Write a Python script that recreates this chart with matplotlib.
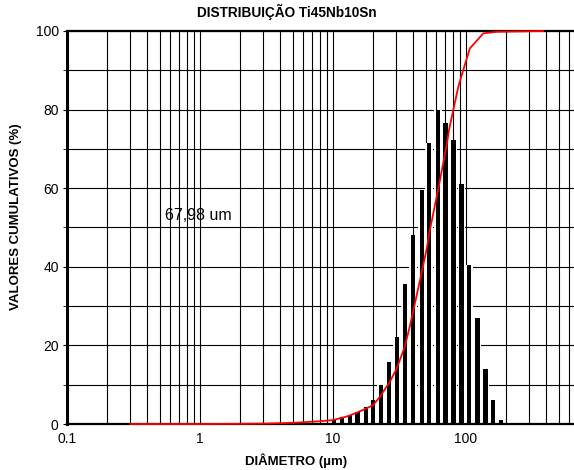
import matplotlib
matplotlib.use("Agg")
import matplotlib.pyplot as plt
import numpy as np

plt.rcParams['font.family'] = ['Liberation Sans', 'DejaVu Sans']

# histogram classes (um) and heights
diam = [7.7, 8.85, 10.2, 11.7, 13.4, 15.3, 17.6, 20.1, 23.0, 26.3, 30.3, 34.9,
        40.0, 46.4, 53.0, 61.2, 70.0, 80.5, 92.5, 106, 122, 140, 160, 184]
hist = [0.15, 0.3, 1.0, 1.7, 2.3, 3.0, 4.2, 6.1, 9.9, 15.9, 22.2, 35.5,
        48.0, 59.5, 71.5, 79.9, 76.5, 72.3, 61.0, 40.5, 27.0, 14.0, 6.1, 1.0]

# cumulative curve
cum_d = [0.3, 1, 2, 3, 5, 8, 10, 13, 16.9, 20, 22.5, 26.8, 30, 34.7, 37.9,
         45.1, 50.6, 53.6, 61.2, 71.6, 74.5, 87.5, 95.4, 107, 135, 170, 380]
cum_v = [0, 0, 0.05, 0.1, 0.3, 0.7, 1.0, 2.0, 3.6, 4.8, 6.9, 10.8, 14, 19.7, 25,
         36.6, 44.5, 49.5, 59, 71, 74.8, 85.8, 90.1, 95.6, 99.4, 99.8, 100]

fig = plt.figure(figsize=(5.74, 4.70), dpi=100)
ax = fig.add_axes([67/574, 46/470, 532/574, 393/470])
ax.set_xscale('log')
ax.set_xlim(0.1, 1000)
ax.set_ylim(0, 100)

# grid
ax.set_axisbelow(True)
ax.set_yticks(np.arange(0, 101, 20))
ax.set_yticks(np.arange(10, 100, 20), minor=True)
ax.grid(True, which='both', axis='x', color='black', lw=0.8)
ax.grid(True, which='both', axis='y', color='black', lw=0.8)
ax.xaxis.set_minor_formatter(matplotlib.ticker.NullFormatter())
ax.set_xticks([0.1, 1, 10, 100])
ax.set_xticklabels(['0.1', '1', '10', '100'])

# bars: white class block + black stripe
d = np.array(diam)
logd = np.log10(d)
half = 0.03
for x, h in zip(logd, hist):
    lo, hi = 10**(x - half), 10**(x + half)
    ax.bar(lo, h, width=hi - lo, align='edge', color='white', lw=0, zorder=2)
    lo, hi = 10**(x - 0.016), 10**(x + 0.016)
    ax.bar(lo, h, width=hi - lo, align='edge', color='black', lw=0, zorder=3)

ax.plot(cum_d, cum_v, color='red', lw=1.3, zorder=5, clip_on=False)

ax.text(0.55, 53, '67,98 um', fontsize=11.5, va='center', ha='left', zorder=6)

for side in ['left', 'top', 'bottom']:
    ax.spines[side].set_color('black')
ax.spines['left'].set_linewidth(2.2)
ax.spines['top'].set_linewidth(1.6)
ax.spines['bottom'].set_linewidth(1.6)
ax.spines['right'].set_visible(False)

ax.tick_params(axis='x', which='both', length=0, labelsize=10, pad=6)
ax.tick_params(axis='y', which='both', length=3, labelsize=10, pad=3)

fig.text(0.5, 0.974, 'DISTRIBUIÇÃO Ti45Nb10Sn', fontsize=9.8,
         fontweight='bold', ha='center', va='center')
fig.text(0.516, 0.019, 'DIÂMETRO (µm)', fontsize=9.5,
         fontweight='bold', ha='center', va='center')
fig.text(0.028, 0.538, 'VALORES CUMULATIVOS (%)', fontsize=9.5,
         fontweight='bold', ha='center', va='center', rotation=90)

fig.savefig('out.png', dpi=100)
